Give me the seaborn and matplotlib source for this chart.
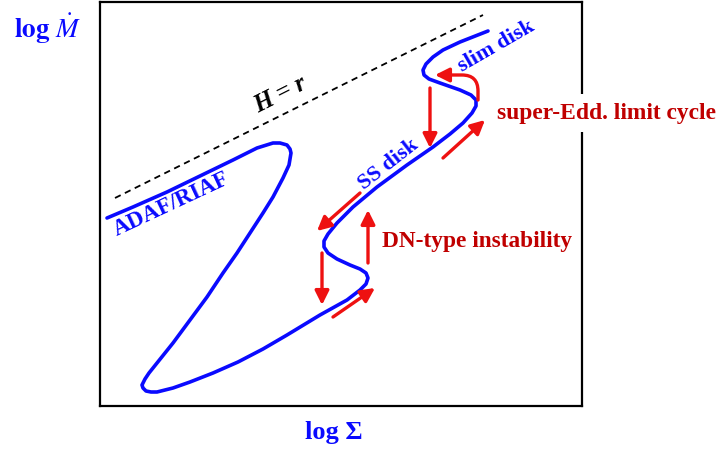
import numpy as np
import pandas as pd
import seaborn as sns
import matplotlib.pyplot as plt

# ---- data (arbitrary units: log Sigma, log Mdot) ----
curve_sigma = [7, 33, 67, 100, 133, 157, 173, 180, 187, 190, 191, 190, 189, 183,
               173, 163, 150, 137, 123, 107, 90, 73, 57, 49, 45, 42, 43, 46, 51,
               57, 65, 73, 90, 113, 138, 163, 187, 220, 247, 260, 266, 268, 266,
               260, 250, 237, 228, 224, 224, 228, 237, 253, 277, 307, 333, 350,
               363, 372, 376, 376, 371, 360, 340, 329, 324, 323, 326, 333, 343,
               360, 388]
curve_mdot = [188, 199, 214, 230, 246, 258, 263, 263, 261, 257, 253, 247, 241, 228,
              209, 193, 173, 153, 133, 109, 86, 63, 43, 33, 27, 21, 18, 15, 14,
              14, 16, 18, 24, 33, 44, 57, 71, 91, 106, 116, 122, 128, 133,
              137, 141, 147, 153, 159, 165, 172, 183, 199, 219, 241, 259, 272,
              283, 293, 300, 306, 311, 316, 323, 327, 331, 336, 342, 349, 356,
              364, 375]

hr_sigma = [15, 383]
hr_mdot = [208, 391]

# straight arrows: (start sigma, start mdot, end sigma, end mdot)
arrow_x0 = [260, 222, 233, 268, 343, 330]
arrow_y0 = [213, 153, 89, 143, 248, 318]
arrow_x1 = [217, 222, 275, 268, 385, 330]
arrow_y1 = [175, 101, 118, 196, 286, 258]

# curved arrow (super-Eddington return)
curved_start = (378, 306)
curved_end = (335, 331)

BLUE = "#0a0aff"
RED = "#ee1111"
DARKRED = "#c00000"

sns.set_theme(style="white")
plt.rcParams["font.family"] = ["Liberation Serif", "DejaVu Serif"]
plt.rcParams["mathtext.fontset"] = "stix"

fig = plt.figure(figsize=(7.19, 4.5), dpi=100)
ax = fig.add_axes([100 / 719, 44 / 450, 482 / 719, 404 / 450])

df = pd.DataFrame({"sigma": curve_sigma, "mdot": curve_mdot})
sns.lineplot(data=df, x="sigma", y="mdot", sort=False, estimator=None,
             color=BLUE, lw=2.6, ax=ax)
sns.lineplot(x=hr_sigma, y=hr_mdot, color="black", lw=1.3,
             linestyle=(0, (3.5, 2.6)), ax=ax)
for ln in ax.lines:
    ln.set_solid_joinstyle("round")

aprops = dict(arrowstyle="-|>,head_length=0.6,head_width=0.3", color=RED,
              lw=2.4, shrinkA=0, shrinkB=0, mutation_scale=14)
for x0, y0, x1, y1 in zip(arrow_x0, arrow_y0, arrow_x1, arrow_y1):
    ax.annotate("", xy=(x1, y1), xytext=(x0, y0), arrowprops=aprops)
cprops = dict(aprops)
cprops["connectionstyle"] = "angle,angleA=90,angleB=0,rad=16"
ax.annotate("", xy=curved_end, xytext=curved_start, arrowprops=cprops)

ax.set_xlim(0, 482)
ax.set_ylim(0, 404)
ax.set_xticks([])
ax.set_yticks([])
ax.set_xlabel("")
ax.set_ylabel("")
for s in ax.spines.values():
    s.set_visible(True)
    s.set_color("black")
    s.set_linewidth(1.6)

# in-plot labels
ax.text(180, 311, "H = r", fontsize=18, fontweight="bold", fontstyle="italic",
        color="black", rotation=26.7, ha="center", va="center",
        rotation_mode="anchor")
ax.text(71, 202, "ADAF/RIAF", fontsize=16.5, fontweight="bold", color=BLUE,
        rotation=25, ha="center", va="center", rotation_mode="anchor")
ax.text(289, 242, "SS disk", fontsize=16, fontweight="bold", color=BLUE,
        rotation=38, ha="center", va="center", rotation_mode="anchor")
ax.text(396, 360, "slim disk", fontsize=16, fontweight="bold", color=BLUE,
        rotation=30, ha="center", va="center", rotation_mode="anchor")
ax.text(282, 164, "DN-type instability", fontsize=16.8, fontweight="bold",
        color=DARKRED, ha="left", va="center")
ax.text(397, 293, "super-Edd. limit cycle", fontsize=16.9, fontweight="bold",
        color=DARKRED, ha="left", va="center", zorder=5,
        bbox=dict(facecolor="white", edgecolor="none", pad=6))

# axis labels
fig.text(47 / 719, 1 - 29 / 450, r"$\mathbf{log}\ \boldsymbol{\dot{M}}$",
         fontsize=19.5, color=BLUE, ha="center", va="center")
fig.text(334 / 719, 1 - 432 / 450, "log Σ", fontsize=19, fontweight="bold",
         color=BLUE, ha="center", va="center")

fig.savefig("out.png", dpi=100)
